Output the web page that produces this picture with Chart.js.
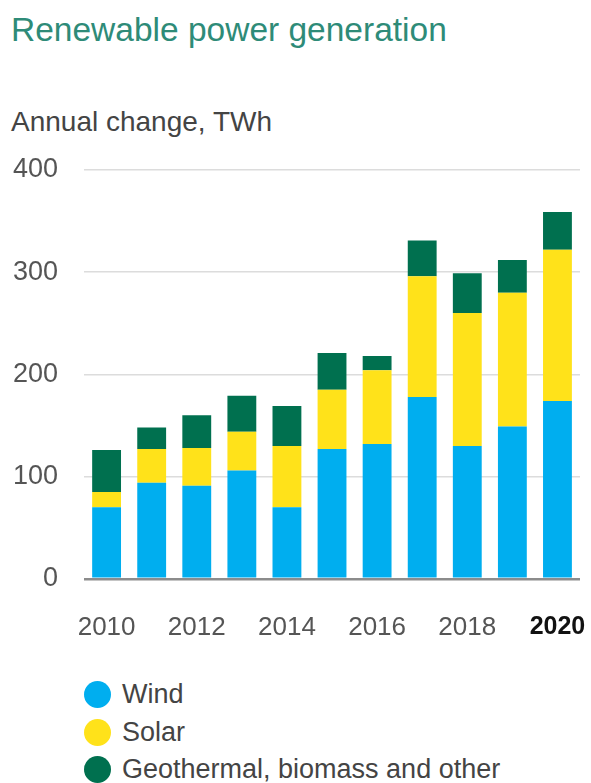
<!DOCTYPE html>
<html>
<head>
<meta charset="utf-8">
<script src="https://cdn.jsdelivr.net/npm/chart.js@4/dist/chart.umd.min.js"></script>
<style>
  body { margin:0; background:#fff; width:591px; height:783px; overflow:hidden; font-family:"Liberation Sans", Arial, sans-serif; }
  #title { position:absolute; left:11px; top:11px; font-size:33.5px; color:#2e8b78; white-space:nowrap; }
  #unit { position:absolute; left:11px; top:106px; font-size:28px; color:#444; white-space:nowrap; }
  #wrap { position:absolute; left:0; top:140px; width:591px; height:520px; }
  #legend { position:absolute; left:84px; top:676px; }
  .item { display:flex; align-items:center; height:37.5px; font-size:27px; color:#444; }
  .dot { width:27px; height:27px; border-radius:50%; margin-right:11px; }
</style>
</head>
<body>
<div id="title">Renewable power generation</div>
<div id="unit">Annual change, TWh</div>
<div id="wrap"><canvas id="chart"></canvas></div>
<div id="legend"></div>
<script>
const years = ["2010","2011","2012","2013","2014","2015","2016","2017","2018","2019","2020"];
const wind  = [70, 94, 91, 106, 70, 127, 132, 178, 130, 149, 174];
const solar = [15, 33, 37, 38, 60, 58, 72, 118, 130, 131, 148];
const other = [41, 21, 32, 35, 39, 36, 14, 35, 39, 32, 37];
const yTicks = [0, 100, 200, 300, 400];

const seriesNames = ["Wind", "Solar", "Geothermal, biomass and other"];
const seriesColors = ["#00aeef", "#ffe21a", "#00704f"];
const seriesData = [wind, solar, other];

const font = "'Liberation Sans', Arial, sans-serif";

// tick gaps are done with invisible tick marks: ticks.padding would also pad the chart area edges
const chart = new Chart(document.getElementById("chart"), {
  type: "bar",
  data: {
    labels: years,
    datasets: seriesData.map((d, i) => ({
      label: seriesNames[i],
      data: d,
      backgroundColor: seriesColors[i],
      borderWidth: 0,
      categoryPercentage: 0.8,
      barPercentage: 0.8
    }))
  },
  options: {
    responsive: true,
    maintainAspectRatio: false,
    animation: false,
    layout: { padding: { left: 13, right: 11, top: 30, bottom: 17 } },
    plugins: { legend: { display: false }, tooltip: { enabled: false } },
    scales: {
      x: {
        stacked: true,
        grid: { display: true, drawOnChartArea: false, drawTicks: true, tickLength: 33, tickColor: "transparent" },
        border: { display: false },
        ticks: {
          autoSkip: false,
          maxRotation: 0,
          padding: 0,
          callback: (v, i) => i % 2 === 0 ? years[i] : "",
          color: c => years[c.index] === "2020" ? "#111" : "#555",
          font: c => years[c.index] === "2020"
            ? { family: font, size: 25, weight: "bold" }
            : { family: font, size: 26 }
        }
      },
      y: {
        stacked: true,
        min: 0,
        max: 400,
        afterBuildTicks: ax => { ax.ticks = yTicks.map(v => ({ value: v })); },
        border: { display: false },
        grid: {
          drawTicks: true,
          tickLength: 26,
          tickColor: "transparent",
          color: c => c.tick.value === 0 ? "#8c8c8c" : "#dcdcdc",
          lineWidth: c => c.tick.value === 0 ? 2.5 : 1.5
        },
        ticks: { padding: 0, color: "#555", font: { family: font, size: 27 } }
      }
    }
  }
});

const legend = document.getElementById("legend");
seriesNames.forEach((n, i) => {
  const row = document.createElement("div");
  row.className = "item";
  row.innerHTML = `<span class="dot" style="background:${seriesColors[i]}"></span>${n}`;
  legend.appendChild(row);
});
</script>
</body>
</html>
